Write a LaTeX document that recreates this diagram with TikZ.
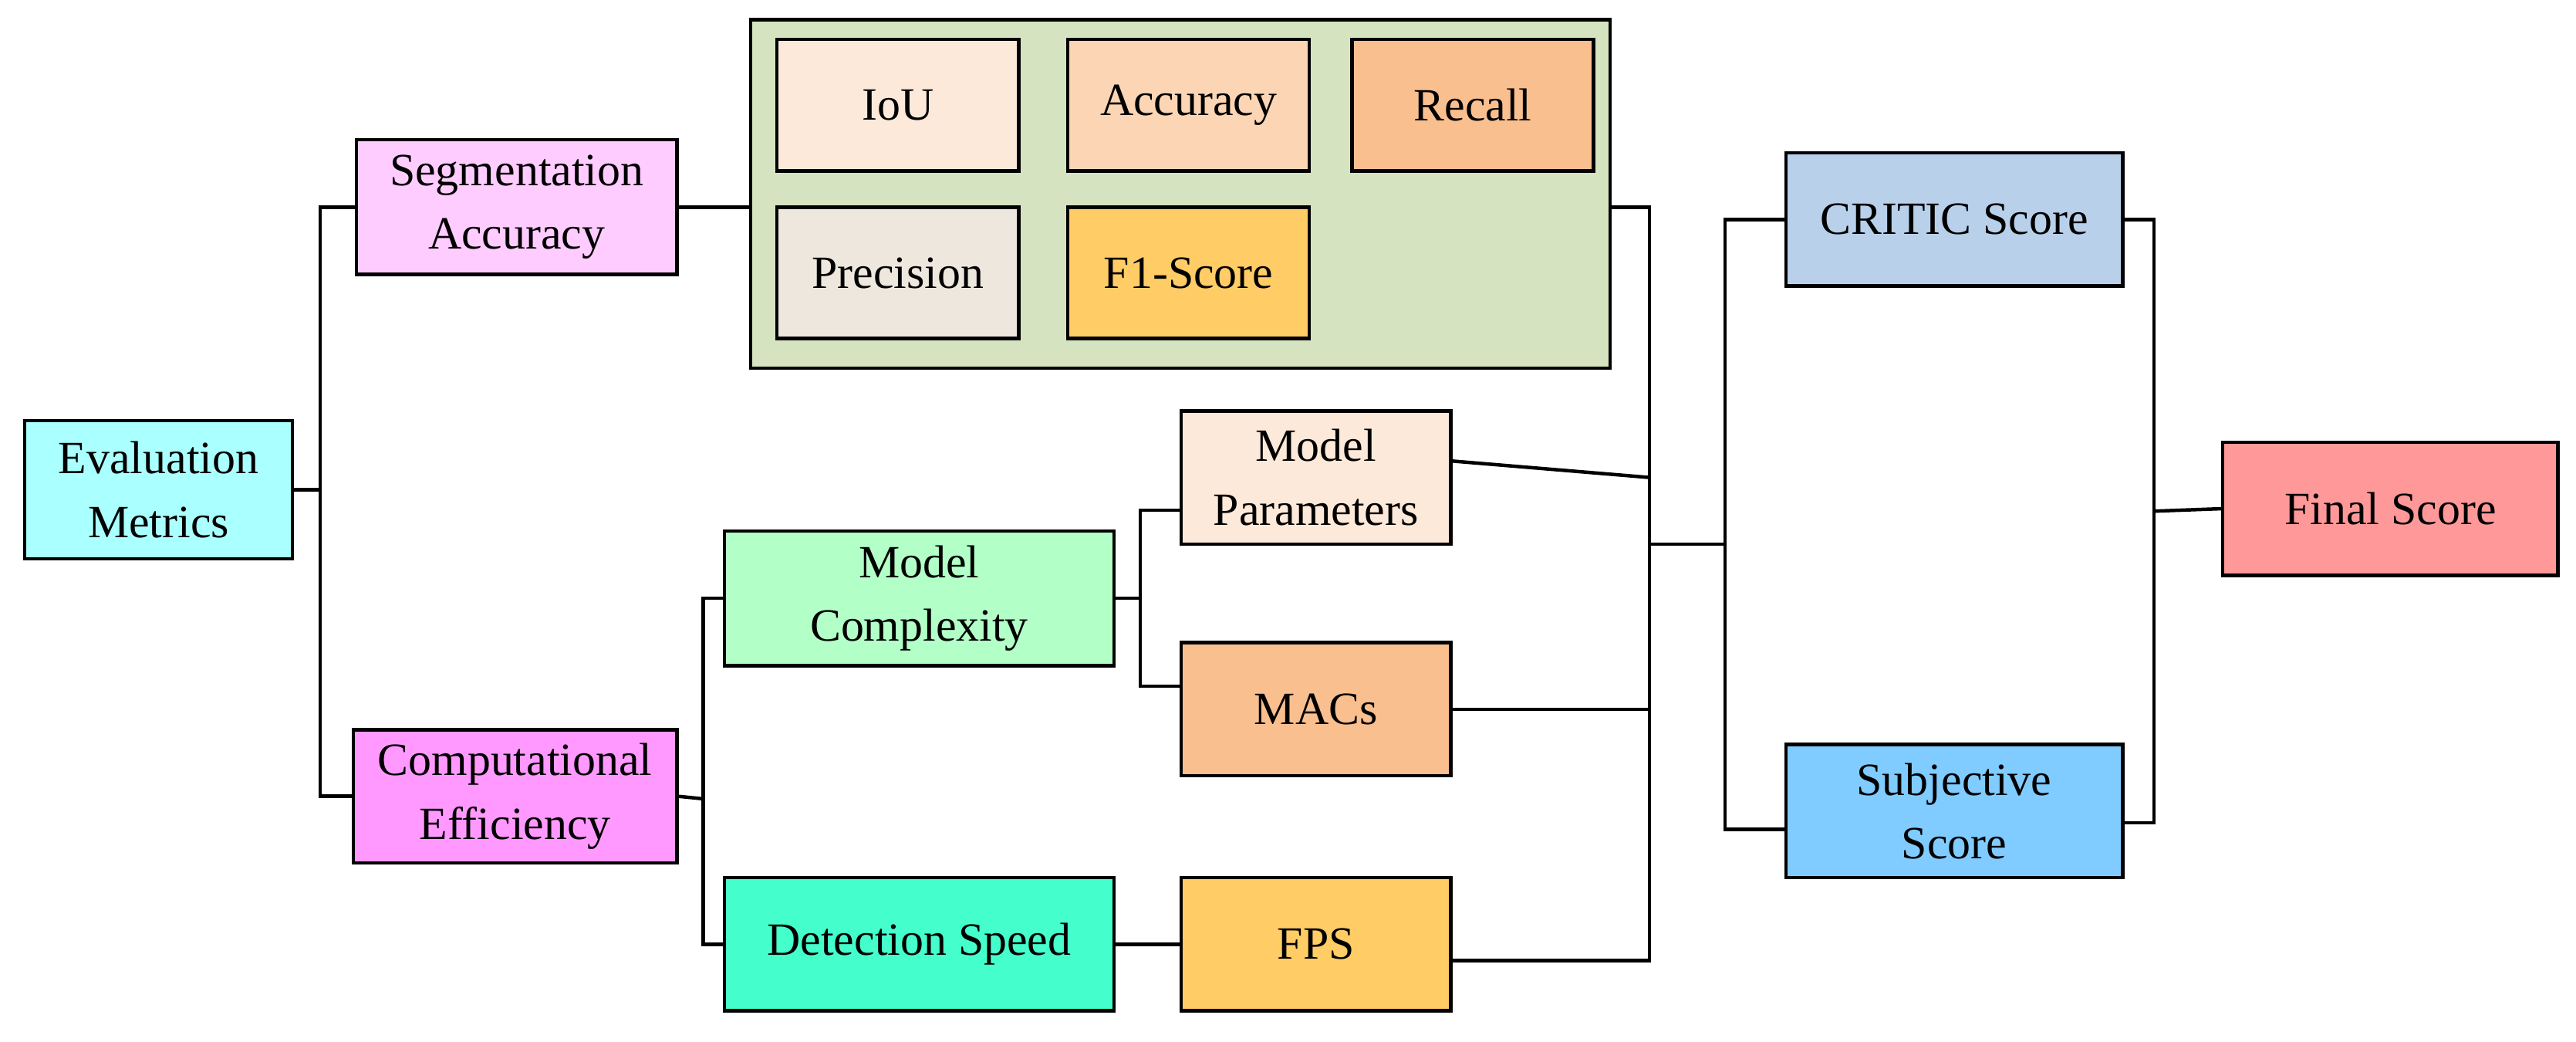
\documentclass[tikz,border=0pt]{standalone}
\usepackage{fontspec}
\setmainfont{Liberation Serif}
\begin{document}
\begin{tikzpicture}[x=0.02cm,y=-0.02cm,
  bx/.style={draw=black,line width=1.2pt,align=center,font=\fontsize{16}{22}\selectfont,inner sep=0pt},
  ln/.style={line width=1.2pt}]
\useasboundingbox (0,0) rectangle (1568,633.5);
\newcommand\bx[7]{\node[bx,fill=#6,minimum width={(#4-#2)*0.02cm},minimum height={(#5-#3)*0.02cm}] (#1) at ({(#2+#4)/2},{(#3+#5)/2}) {#7};}
\definecolor{cEM}{HTML}{AAFFFF}\definecolor{cSeg}{HTML}{FFCCFF}\definecolor{cCE}{HTML}{FF99FF}
\definecolor{cCont}{HTML}{D5E3C0}\definecolor{cIoU}{HTML}{FDE9D9}\definecolor{cAcc}{HTML}{FCD5B4}
\definecolor{cRec}{HTML}{FABF8F}\definecolor{cPre}{HTML}{EEE7DE}\definecolor{cF1}{HTML}{FFCC66}
\definecolor{cMC}{HTML}{B3FFC8}\definecolor{cDS}{HTML}{44FFCC}\definecolor{cCR}{HTML}{B8D0EA}
\definecolor{cSub}{HTML}{80CBFF}\definecolor{cFin}{HTML}{FF9999}
\bx{em}{15}{256}{178}{340}{cEM}{Evaluation\\Metrics}
\bx{seg}{217}{85}{412}{167}{cSeg}{Segmentation\\Accuracy}
\bx{ce}{215}{444}{412}{525}{cCE}{Computational\\Efficiency}
\bx{cont}{457}{12}{980}{224}{cCont}{}
\bx{iou}{473}{24}{620}{104}{cIoU}{IoU}
\bx{acc}{650}{24}{797}{104}{cAcc}{Accuracy}
\bx{rec}{823}{24}{970}{104}{cRec}{Recall}
\bx{pre}{473}{126}{620}{206}{cPre}{Precision}
\bx{f1}{650}{126}{797}{206}{cF1}{F1-Score}
\bx{mp}{719}{250}{883}{331}{cIoU}{Model\\Parameters}
\bx{mc}{441}{323}{678}{405}{cMC}{Model\\Complexity}
\bx{mac}{719}{391}{883}{472}{cRec}{MACs}
\bx{ds}{441}{534}{678}{615}{cDS}{Detection Speed}
\bx{fps}{719}{534}{883}{615}{cF1}{FPS}
\bx{cr}{1087}{93}{1292}{174}{cCR}{CRITIC Score}
\bx{sub}{1087}{453}{1292}{534}{cSub}{Subjective\\Score}
\bx{fin}{1353}{269}{1557}{350}{cFin}{Final Score}
\coordinate (j1) at (195,298);
\coordinate (j2) at (428,486);
\coordinate (j3) at (694,364);
\coordinate (j4) at (1004,331);
\coordinate (j5) at (1050,331);
\coordinate (j6) at (1311,311);
\draw[ln] (em.east) -- (j1);
\draw[ln] (seg.west) -| (j1) |- (ce.west);
\draw[ln] (seg.east) -- (cont.west |- seg.east);
\draw[ln] (ce.east) -- (j2);
\draw[ln] (mc.west) -| (j2) |- (ds.west);
\draw[ln] (mc.east) -- (j3);
\draw[ln] ([yshift=-0.4cm]mp.west) -| (j3) |- ([yshift=0.28cm]mac.west);
\draw[ln] (ds.east) -- (fps.west);
\draw[ln] (cont.east |- seg.east) -| (j4) |- ([yshift=-0.2cm]fps.east);
\draw[ln] ([yshift=0.2cm]mp.east) -- (mp.east -| j4);
\draw[ln] (mac.east) -- (mac.east -| j4);
\draw[ln] (j4) -- (j5);
\draw[ln] (cr.west) -| (j5) |- ([yshift=-0.22cm]sub.west);
\draw[ln] (cr.east) -| (j6) |- ([yshift=-0.14cm]sub.east);
\draw[ln] (j6) -- (fin.west);
\end{tikzpicture}
\end{document}
